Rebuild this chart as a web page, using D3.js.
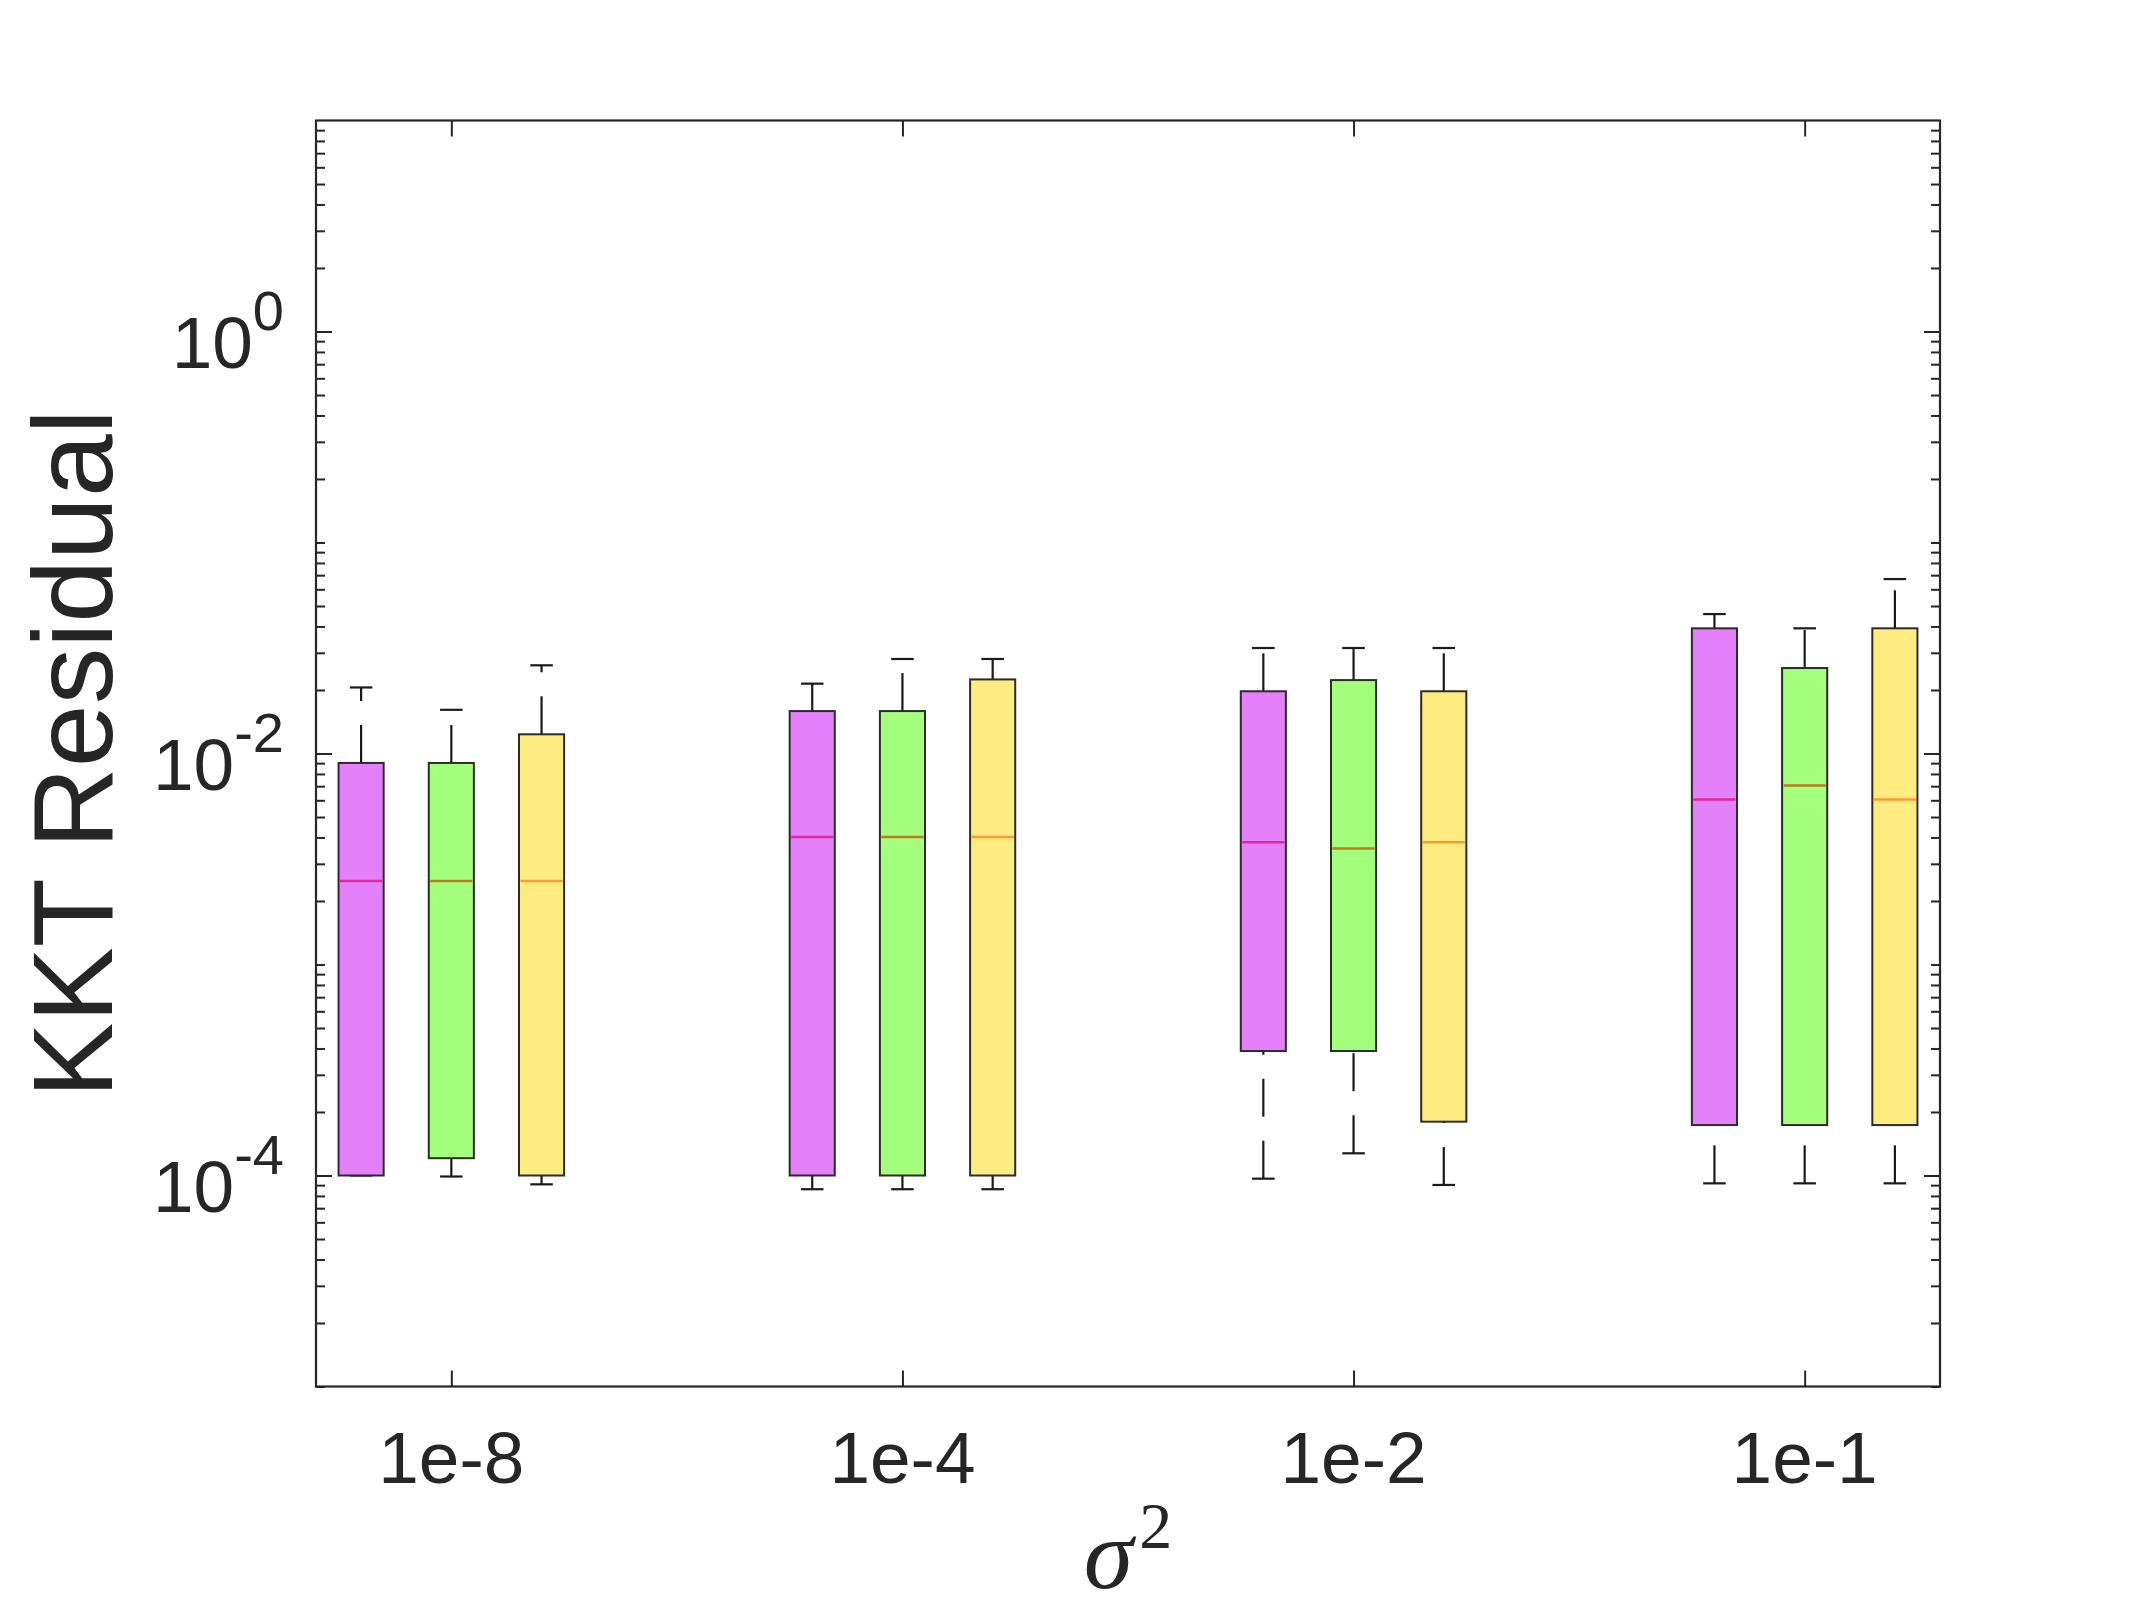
<!DOCTYPE html>
<html>
<head>
<meta charset="utf-8">
<script src="https://cdn.jsdelivr.net/npm/d3@7"></script>
<style>
  body { margin: 0; background: #fff; }
  text { font-family: "Liberation Sans", Arial, sans-serif; fill: #262626; }
</style>
</head>
<body>
<script>
var width = 2145;
var height = 1617;
var mLeft = 316, mRight = 1940, mTop = 120.5, mBottom = 1386.5;

// categories on the x axis (sigma^2)
var categories = ["1e-8", "1e-4", "1e-2", "1e-1"];
var seriesColors = ["#e580fb", "#a4ff7c", "#ffec80"];
var medianColors = ["#e3279a", "#c07a1c", "#ff9a33"];
var offsets = [-0.2, 0, 0.2];

// box stats, one row per series, one value per category
var lowerWhisker = [
  [1.0e-4, 8.61e-5, 9.66e-5, 9.18e-5],
  [9.89e-5, 8.61e-5, 1.274e-4, 9.18e-5],
  [9.08e-5, 8.61e-5, 9.02e-5, 9.18e-5]
];
var q1 = [
  [1.0e-4, 1.0e-4, 3.89e-4, 1.734e-4],
  [1.208e-4, 1.0e-4, 3.89e-4, 1.734e-4],
  [1.0e-4, 1.0e-4, 1.799e-4, 1.734e-4]
];
var medians = [
  [2.489e-3, 4.018e-3, 3.80e-3, 6.05e-3],
  [2.489e-3, 4.018e-3, 3.548e-3, 7.05e-3],
  [2.489e-3, 4.018e-3, 3.80e-3, 6.05e-3]
];
var q3 = [
  [9.02e-3, 1.589e-2, 1.972e-2, 3.92e-2],
  [9.02e-3, 1.589e-2, 2.228e-2, 2.541e-2],
  [1.233e-2, 2.244e-2, 1.972e-2, 3.92e-2]
];
var upperWhisker = [
  [2.056e-2, 2.143e-2, 3.162e-2, 4.58e-2],
  [1.611e-2, 2.805e-2, 3.162e-2, 3.92e-2],
  [2.618e-2, 2.805e-2, 3.162e-2, 6.71e-2]
];

var majorTicks = [1e-4, 1e-2, 1];
var majorExp = ["-4", "-2", "0"];

var x = d3.scaleLinear().domain([0.7, 4.3]).range([mLeft, mRight]);
var y = d3.scaleLog().domain([1e-5, 10]).range([mBottom, mTop]);

var svg = d3.select("body").append("svg")
    .attr("width", width)
    .attr("height", height);

// minor log ticks (every 1..9 x 10^k that is not a labelled one)
var minorTicks = [];
for (var e = -5; e <= 0; e++) {
  for (var m = 1; m <= 9; m++) {
    if (m == 1 && (e % 2 == 0)) continue;
    minorTicks.push(m * Math.pow(10, e));
  }
}

function styleAxis(g) {
  g.select(".domain").remove();
  g.selectAll(".tick line").attr("stroke", "#262626").attr("stroke-width", 2);
}

svg.append("g").attr("transform", "translate(" + mLeft + ",0)")
  .call(d3.axisLeft(y).tickValues(majorTicks).tickSize(-16).tickFormat(""))
  .call(styleAxis);
svg.append("g").attr("transform", "translate(" + mLeft + ",0)")
  .call(d3.axisLeft(y).tickValues(minorTicks).tickSize(-9).tickFormat(""))
  .call(styleAxis);
svg.append("g").attr("transform", "translate(" + mRight + ",0)")
  .call(d3.axisRight(y).tickValues(majorTicks).tickSize(-16).tickFormat(""))
  .call(styleAxis);
svg.append("g").attr("transform", "translate(" + mRight + ",0)")
  .call(d3.axisRight(y).tickValues(minorTicks).tickSize(-9).tickFormat(""))
  .call(styleAxis);
svg.append("g").attr("transform", "translate(0," + mBottom + ")")
  .call(d3.axisBottom(x).tickValues([1, 2, 3, 4]).tickSize(-16).tickFormat(""))
  .call(styleAxis);
svg.append("g").attr("transform", "translate(0," + mTop + ")")
  .call(d3.axisTop(x).tickValues([1, 2, 3, 4]).tickSize(-16).tickFormat(""))
  .call(styleAxis);

svg.append("rect")
  .attr("x", mLeft).attr("y", mTop)
  .attr("width", mRight - mLeft).attr("height", mBottom - mTop)
  .attr("fill", "none")
  .attr("stroke", "#262626")
  .attr("stroke-width", 2.2);

// y tick labels 10^k
var ylab = svg.selectAll(".ylab")
  .data(majorTicks)
  .enter()
  .append("text")
  .attr("class", "ylab")
  .attr("text-anchor", "end")
  .attr("x", mLeft - 32)
  .attr("y", function(d) { return y(d) + 36; });
ylab.append("tspan").attr("font-size", 73).text("10");
ylab.append("tspan").attr("font-size", 56).attr("dy", -38)
  .text(function(d, i) { return majorExp[i]; });

// x tick labels
svg.selectAll(".xlab")
  .data(categories)
  .enter()
  .append("text")
  .attr("class", "xlab")
  .attr("text-anchor", "middle")
  .attr("x", function(d, i) { return x(i + 1); })
  .attr("y", 1483)
  .attr("font-size", 73)
  .text(function(d) { return d; });

// axis titles
svg.append("text")
  .attr("transform", "translate(112," + ((mTop + mBottom) / 2) + ") rotate(-90)")
  .attr("text-anchor", "middle")
  .attr("font-size", 113)
  .attr("fill", "#111")
  .text("KKT Residual");

var xt = svg.append("text")
  .attr("x", (mLeft + mRight) / 2)
  .attr("y", 1588)
  .attr("text-anchor", "middle")
  .style("font-family", "'Liberation Serif', 'DejaVu Serif', serif");
xt.append("tspan").attr("font-size", 100).attr("font-style", "italic").text("σ");
xt.append("tspan").attr("font-size", 66).attr("dy", -40).attr("dx", 6).text("2");

// boxes
var boxW = 0.1, capW = 0.05;
var rows = [];
for (var s = 0; s < 3; s++) {
  for (var i = 0; i < categories.length; i++) {
    rows.push({s: s, c: i + 1 + offsets[s], lo: lowerWhisker[s][i], q1: q1[s][i],
               med: medians[s][i], q3: q3[s][i], hi: upperWhisker[s][i]});
  }
}

var plot = svg.append("g");

// whiskers are drawn from low value to high value, dashed
plot.selectAll(".wup")
  .data(rows).enter().append("line")
  .attr("x1", function(d) { return x(d.c); })
  .attr("x2", function(d) { return x(d.c); })
  .attr("y1", function(d) { return y(d.q3); })
  .attr("y2", function(d) { return y(d.hi); })
  .attr("stroke", "#1a1a1a").attr("stroke-width", 2.2)
  .attr("stroke-dasharray", "38,24");
plot.selectAll(".wlo")
  .data(rows).enter().append("line")
  .attr("x1", function(d) { return x(d.c); })
  .attr("x2", function(d) { return x(d.c); })
  .attr("y1", function(d) { return y(d.lo); })
  .attr("y2", function(d) { return y(d.q1); })
  .attr("stroke", "#1a1a1a").attr("stroke-width", 2.2)
  .attr("stroke-dasharray", "38,24");

// caps
["lo", "hi"].forEach(function(k) {
  plot.selectAll(".cap" + k)
    .data(rows).enter().append("line")
    .attr("x1", function(d) { return x(d.c - capW / 2); })
    .attr("x2", function(d) { return x(d.c + capW / 2); })
    .attr("y1", function(d) { return y(d[k]); })
    .attr("y2", function(d) { return y(d[k]); })
    .attr("stroke", "#1a1a1a").attr("stroke-width", 2.2);
});

plot.selectAll(".box")
  .data(rows).enter().append("rect")
  .attr("x", function(d) { return x(d.c - boxW / 2); })
  .attr("width", function(d) { return x(d.c + boxW / 2) - x(d.c - boxW / 2); })
  .attr("y", function(d) { return y(d.q3); })
  .attr("height", function(d) { return y(d.q1) - y(d.q3); })
  .attr("fill", function(d) { return seriesColors[d.s]; })
  .attr("stroke", "#2b2b2b")
  .attr("stroke-width", 2);

plot.selectAll(".med")
  .data(rows).enter().append("line")
  .attr("x1", function(d) { return x(d.c - boxW / 2) + 1.5; })
  .attr("x2", function(d) { return x(d.c + boxW / 2) - 1.5; })
  .attr("y1", function(d) { return y(d.med); })
  .attr("y2", function(d) { return y(d.med); })
  .attr("stroke", function(d) { return medianColors[d.s]; })
  .attr("stroke-width", 2.5);
</script>
</body>
</html>
